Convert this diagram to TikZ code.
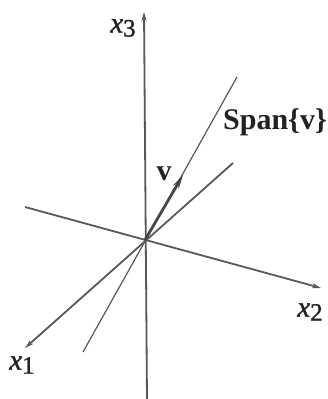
\documentclass[tikz,border=0pt]{standalone}
\usepackage{fontspec}
\setmainfont{Liberation Serif}
\newfontfamily\xfam[FakeBold=1.2]{Liberation Serif}
\usetikzlibrary{arrows.meta}
\definecolor{axisgray}{HTML}{585858}
\definecolor{inkdark}{HTML}{222222}
\newcommand{\axlab}[1]{{\xfam\fontsize{29}{30}\selectfont\itshape x}\raisebox{-0.4em}{\xfam\fontsize{25}{25}\selectfont #1}}
\begin{document}
\begin{tikzpicture}[x=1pt,y=-1pt,
  axisline/.style={draw=axisgray,line width=1.8pt},
  spanline/.style={draw=axisgray,line width=1.2pt},
  vecline/.style={draw=axisgray!80!black,line width=2.8pt},
  tip/.style={-{Stealth[length=9pt,width=5pt]}},
  lab/.style={text=inkdark,inner sep=0pt}]
\useasboundingbox[fill=white] (0,0) rectangle (328,399);
% points
\coordinate (O) at (145,240);
\coordinate (x3bot) at (147,399);
\coordinate (x3top) at (144,12);
\coordinate (x2left) at (25,207);
\coordinate (x2tip) at (321,288);
\coordinate (x1back) at (233,163);
\coordinate (x1tip) at (25,348);
\coordinate (spanlow) at (83,352);
\coordinate (spanhigh) at (237,77);
\coordinate (vtip) at (183,175);
% span line
\draw[spanline] (spanlow) -- (spanhigh);
% axes
\draw[axisline,tip] (x3bot) -- (x3top);
\draw[axisline,tip] (x2left) -- (x2tip);
\draw[axisline,tip] (x1back) -- (x1tip);
% vector v
\draw[vecline,-{Stealth[length=14pt,width=6.5pt]}] (O) -- (vtip);
% labels
\node[lab] (lx3) at (123,28) {\axlab{3}};
\node[lab] (lx2) at (310,312) {\axlab{2}};
\node[lab] (lx1) at (22,365) {\axlab{1}};
\node[lab,font=\fontsize{30}{30}\selectfont\bfseries] (lspan) at (275,122) {Span\{v\}};
\node[lab,font=\fontsize{30}{30}\selectfont\bfseries] (lv) at (164,174) {v};
\end{tikzpicture}
\end{document}
